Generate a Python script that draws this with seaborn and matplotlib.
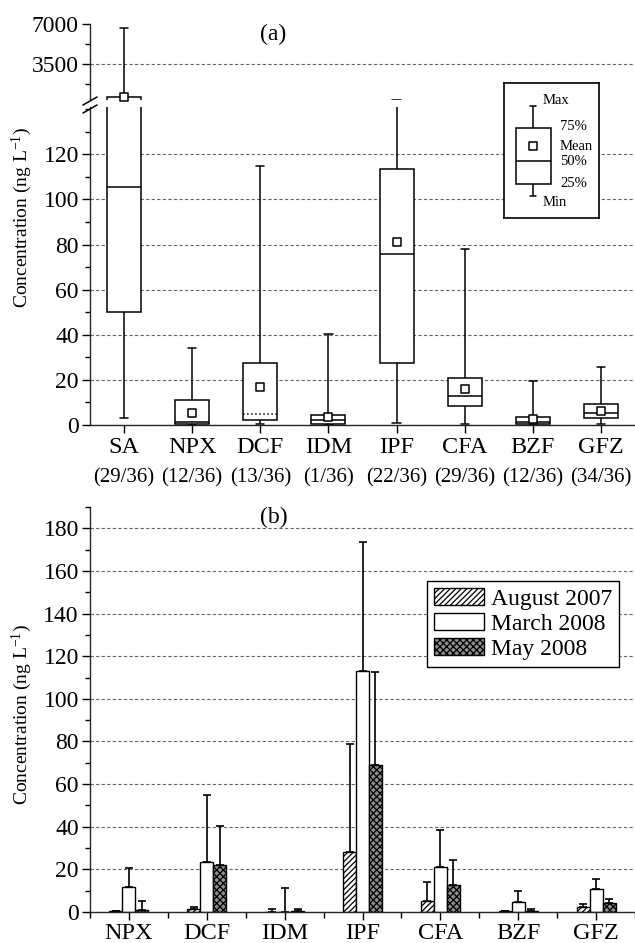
import numpy as np
import pandas as pd
import matplotlib
matplotlib.use('Agg')
import matplotlib.pyplot as plt
import seaborn as sns
from matplotlib.ticker import MultipleLocator, FixedLocator
from matplotlib.lines import Line2D

# (a) statistics per compound (ng/L)
drugs_a = ['SA', 'NPX', 'DCF', 'IDM', 'IPF', 'CFA', 'BZF', 'GFZ']
detect = ['(29/36)', '(12/36)', '(13/36)', '(1/36)', '(22/36)', '(29/36)', '(12/36)', '(34/36)']
mins = [3, 0.2, 0.5, 0.2, 0.8, 0.3, 0.2, 0.5]
q1s = [50, 0.5, 2.2, 0.5, 27.3, 8.6, 0.4, 3.2]
medians = [105.5, 1.2, 5.0, 2.2, 75.9, 13.0, 1.5, 5.2]
q3s = [640, 11.0, 27.7, 4.4, 113.6, 21.0, 3.7, 9.3]
maxs = [6680, 34, 115, 40.3, 420, 78, 19.7, 25.5]
means = [640, 5.5, 16.8, 3.4, 81, 16.0, 2.7, 6.3]

# key box drawn inside panel (a)
key_box = [1.6, 2.5, 4.2, 6.7, 8.3]
key_mean = 5.36
key_labels = ['Max', '75%', 'Mean', '50%', '25%', 'Min']

# (b) mean and SD per campaign
drugs_b = ['NPX', 'DCF', 'IDM', 'IPF', 'CFA', 'BZF', 'GFZ']
seasons = ['August 2007', 'March 2008', 'May 2008']
aug = [0.3, 1.3, 0.2, 28.0, 5.0, 0.3, 2.5]
aug_sd = [0.0, 1.0, 1.1, 51.0, 8.9, 0.0, 1.4]
mar = [11.7, 23.3, 0.1, 113.0, 21.2, 4.8, 10.8]
mar_sd = [9.0, 31.5, 11.0, 60.6, 17.2, 4.9, 4.5]
may = [0.8, 21.9, 0.5, 68.9, 12.8, 0.3, 4.2]
may_sd = [4.3, 18.5, 0.8, 43.6, 11.7, 1.1, 1.9]

sns.set_style('ticks')
plt.rcParams['font.family'] = ['Liberation Serif', 'DejaVu Serif']
plt.rcParams['mathtext.fontset'] = 'custom'
plt.rcParams['mathtext.rm'] = 'Liberation Serif'
plt.rcParams['mathtext.it'] = 'Liberation Serif:italic'
plt.rcParams['hatch.linewidth'] = 0.9
plt.rcParams['axes.linewidth'] = 1.0
plt.rcParams['text.color'] = 'black'
plt.rcParams['xtick.color'] = 'black'
plt.rcParams['ytick.color'] = 'black'

W, H = 635, 943
fig = plt.figure(figsize=(W / 100, H / 100), dpi=100)


def px_axes(x0, y0, x1, y1):
    return fig.add_axes([x0 / W, 1 - y1 / H, (x1 - x0) / W, (y1 - y0) / H])


ax_up = px_axes(90, 24, 635, 100)
ax_lo = px_axes(90, 107, 635, 425)
ax_b = px_axes(90, 507, 635, 912)

grid_kw = dict(linestyle=(0, (3, 2)), color='0.4', linewidth=0.8)
ylab = r'Concentration (ng L$^{-1}$)'
ytick_size = 17
xtick_size = 17.5

# ---------- panel (a): broken axis box plot ----------
rows = []
for d, a, b, c, e, f in zip(drugs_a, mins, q1s, medians, q3s, maxs):
    for v in (a, b, c, e, f):
        rows.append({'drug': d, 'value': v})
df_a = pd.DataFrame(rows)

means_arr = np.array(means)
pos = np.arange(len(drugs_a))
for ax, lo, hi in [(ax_up, 400, 7000), (ax_lo, 0, 141)]:
    sns.boxplot(data=df_a, x='drug', y='value', order=drugs_a, whis=(0, 100),
                width=0.5, color='white', linecolor='black', linewidth=1.1,
                fliersize=0, capwidths=0.12, ax=ax)
    inside = (means_arr >= lo) & (means_arr <= hi)
    ax.scatter(pos[inside], means_arr[inside], marker='s', s=36, facecolor='white',
               edgecolor='black', linewidth=1.1, zorder=6, clip_on=False)
    ax.set_ylim(lo, hi)
    ax.set_xlim(-0.5, len(drugs_a) - 0.5)
    ax.set_xlabel('')
    ax.set_ylabel('')
    ax.set_axisbelow(True)
    ax.yaxis.grid(True, **grid_kw)
    ax.spines['right'].set_visible(False)
    ax.spines['top'].set_visible(False)
    ax.tick_params(axis='y', which='major', direction='out', length=6, width=1,
                   labelsize=ytick_size, pad=2)
    ax.tick_params(axis='y', which='minor', direction='out', length=3.5, width=1)

# dotted median for DCF
for ln in ax_lo.lines:
    yd = np.asarray(ln.get_ydata(), dtype=float)
    xd = np.asarray(ln.get_xdata(), dtype=float)
    if len(yd) == 2 and np.allclose(yd, medians[2]) and abs(xd.mean() - 2) < 0.01:
        ln.set_linestyle(':')

ax_up.yaxis.set_major_locator(FixedLocator([3500, 7000]))
ax_up.yaxis.set_minor_locator(FixedLocator([1750, 5250]))
ax_up.get_ygridlines()[-1].set_visible(False)
ax_up.spines['bottom'].set_visible(False)
ax_up.tick_params(axis='x', which='both', bottom=False, labelbottom=False)

ax_lo.yaxis.set_major_locator(FixedLocator(np.arange(0, 121, 20)))
ax_lo.yaxis.set_minor_locator(MultipleLocator(10))
ax_lo.set_xticks(pos)
ax_lo.set_xticklabels(drugs_a)
ax_lo.tick_params(axis='x', direction='out', length=6, width=1, labelsize=xtick_size, pad=3)
for i, t in enumerate(detect):
    ax_lo.annotate(t, xy=(i, 0), xycoords=('data', 'axes fraction'), xytext=(0, -38),
                   textcoords='offset points', ha='center', va='center', fontsize=15,
                   annotation_clip=False)

# break marks on the left spine
for y0 in (105, 113):
    fig.add_artist(Line2D([83 / W, 97 / W], [1 - y0 / H, 1 - (y0 - 8) / H],
                          color='black', linewidth=1.1))

ax_up.text(183 / 545, 1.0, '(a)', transform=ax_up.transAxes, ha='center',
           va='top', fontsize=17)

# key box
ax_k = px_axes(504, 83, 599, 218)
sns.boxplot(y=key_box, whis=(0, 100), width=0.71, color='white', linecolor='black',
            linewidth=1.1, fliersize=0, capwidths=0.12, ax=ax_k)
ax_k.scatter([0], [key_mean], marker='s', s=36, facecolor='white', edgecolor='black',
             linewidth=1.1, zorder=6)
ax_k.set_xlim(-0.6, 1.35)
ax_k.set_ylim(0, 10)
ax_k.set_xticks([])
ax_k.set_yticks([])
ax_k.set_ylabel('')
for s in ax_k.spines.values():
    s.set_visible(True)
    s.set_color('black')
    s.set_linewidth(1.2)
key_xy = [(0.41, 0.867), (0.59, 0.68), (0.59, 0.533), (0.59, 0.415), (0.59, 0.252), (0.41, 0.118)]
for lab, (kx, ky) in zip(key_labels, key_xy):
    ax_k.text(kx, ky, lab, transform=ax_k.transAxes, ha='left', va='center', fontsize=10.5)

fig.text(22 / W, 1 - 217 / H, ylab, rotation=90, ha='center', va='center', fontsize=14)

# ---------- panel (b): grouped bars ----------
df_b = pd.DataFrame({
    'drug': drugs_b * 3,
    'season': np.repeat(seasons, len(drugs_b)),
    'value': aug + mar + may,
})
sds = [aug_sd, mar_sd, may_sd]
sns.barplot(data=df_b, x='drug', y='value', hue='season', order=drugs_b, hue_order=seasons,
            width=0.5, palette=['white', 'white', '0.55'], saturation=1, edgecolor='black',
            linewidth=1.0, errorbar=None, legend=False, ax=ax_b)
hatches = ['//////', None, 'xxxxx']
for cont, hatch, sd in zip(ax_b.containers, hatches, sds):
    xs, ys = [], []
    for bar in cont.patches:
        if hatch:
            bar.set_hatch(hatch)
        xs.append(bar.get_x() + bar.get_width() / 2)
        ys.append(bar.get_height())
    ax_b.errorbar(xs, ys, yerr=[np.zeros(len(sd)), sd], fmt='none', ecolor='black',
                  elinewidth=1.2, capsize=2.8, capthick=1.2, zorder=1)

ax_b.set_ylim(0, 190)
ax_b.set_xlim(-0.5, len(drugs_b) - 0.5)
ax_b.set_xlabel('')
ax_b.set_ylabel('')
ax_b.set_axisbelow(True)
ax_b.yaxis.grid(True, **grid_kw)
ax_b.spines['right'].set_visible(False)
ax_b.spines['top'].set_visible(False)
ax_b.yaxis.set_major_locator(FixedLocator(np.arange(0, 181, 20)))
ax_b.yaxis.set_minor_locator(MultipleLocator(10))
ax_b.xaxis.set_minor_locator(FixedLocator(np.arange(-0.5, len(drugs_b), 1)))
ax_b.tick_params(axis='y', which='major', direction='out', length=6, width=1,
                 labelsize=ytick_size, pad=2)
ax_b.tick_params(axis='y', which='minor', direction='out', length=3.5, width=1)
ax_b.tick_params(axis='x', which='major', direction='out', length=6, width=1,
                 labelsize=xtick_size, pad=2)
ax_b.tick_params(axis='x', which='minor', direction='out', length=4, width=1)

leg = ax_b.legend(ax_b.containers, seasons, loc='upper right', bbox_to_anchor=(0.971, 0.8175),
                  borderaxespad=0, fontsize=17, frameon=True, fancybox=False, framealpha=1,
                  edgecolor='black', handlelength=2.1, handleheight=0.7, labelspacing=0.15,
                  handletextpad=0.3, borderpad=0.3)
leg.get_frame().set_linewidth(1.0)

ax_b.text(184 / 545, 1.0, '(b)', transform=ax_b.transAxes, ha='center', va='top', fontsize=17)
fig.text(22 / W, 1 - 714 / H, ylab, rotation=90, ha='center', va='center', fontsize=14)

fig.savefig('out.png', dpi=100)
